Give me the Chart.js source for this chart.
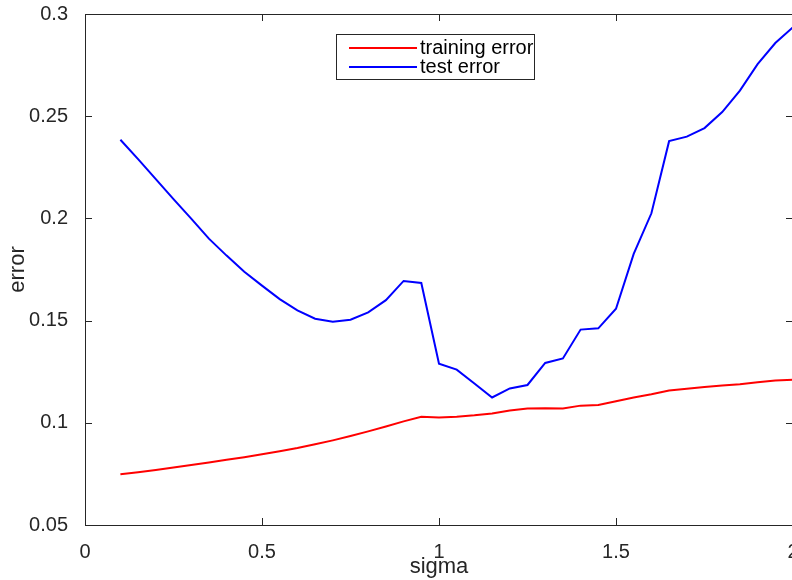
<!DOCTYPE html>
<html lang="en">
<head>
    <meta charset="UTF-8">
    <title>Training vs test error</title>
    <script src="https://cdn.jsdelivr.net/npm/chart.js"></script>
    <style>
        html, body {
            margin: 0;
            padding: 0;
            background: #fff;
            overflow: hidden;
        }
        .chart-container {
            position: relative;
            width: 800px;
            height: 580px;
        }
    </style>
</head>
<body>
<div class="chart-container">
    <canvas id="errorChart"></canvas>
</div>

<script>
    // sigma values (x) and the two error curves
    const sigma = [0.1, 0.15, 0.2, 0.25, 0.3, 0.35, 0.4, 0.45, 0.5, 0.55, 0.6, 0.65, 0.7, 0.75,
        0.8, 0.85, 0.9, 0.95, 1.0, 1.05, 1.1, 1.15, 1.2, 1.25, 1.3, 1.35, 1.4, 1.45, 1.5,
        1.55, 1.6, 1.65, 1.7, 1.75, 1.8, 1.85, 1.9, 1.95, 2.0];

    const trainingError = [0.0748, 0.0758, 0.0769, 0.0781, 0.0793, 0.0806, 0.0819, 0.0832,
        0.0846, 0.0861, 0.0877, 0.0895, 0.0914, 0.0935, 0.0958, 0.0982, 0.1007, 0.1029,
        0.1026, 0.1030, 0.1037, 0.1046, 0.1060, 0.1070, 0.1071, 0.1070, 0.1084, 0.1087,
        0.1105, 0.1124, 0.1140, 0.1158, 0.1167, 0.1175, 0.1182, 0.1189, 0.1198, 0.1207, 0.1211];

    const testError = [0.2385, 0.2290, 0.2192, 0.2094, 0.1999, 0.1901, 0.1818, 0.1739,
        0.1671, 0.1605, 0.1550, 0.1509, 0.1495, 0.1504, 0.1540, 0.1600, 0.1694, 0.1684,
        0.1289, 0.1260, 0.1192, 0.1124, 0.1168, 0.1185, 0.1293, 0.1315, 0.1456, 0.1462,
        0.1558, 0.1826, 0.2025, 0.2378, 0.2400, 0.2442, 0.2520, 0.2625, 0.2755, 0.2858, 0.2935];

    const seriesLabels = ['training error', 'test error'];
    const seriesColors = ['#ff0000', '#0000ff'];

    const axisColor = '#262626';
    const fontFamily = '"Liberation Sans", Arial, Helvetica, sans-serif';

    function toPoints(ys) {
        return sigma.map((x, i) => ({ x: x, y: ys[i] }));
    }

    // matlab style tick text: 0.3 not 0.30, 1 not 1.0
    function shortNum(v) {
        return String(parseFloat(Number(v).toFixed(3)));
    }

    // box around the plot with inward tick marks on all four sides
    const boxTicks = {
        id: 'boxTicks',
        afterDraw(chart) {
            const { ctx, chartArea: a, scales } = chart;
            const len = 7;
            ctx.save();
            ctx.strokeStyle = axisColor;
            ctx.lineWidth = 1;
            ctx.strokeRect(a.left + 0.5, a.top + 0.5, a.right - a.left, a.bottom - a.top);
            ctx.beginPath();
            scales.x.ticks.forEach(t => {
                const px = Math.round(scales.x.getPixelForValue(t.value)) + 0.5;
                ctx.moveTo(px, a.bottom);
                ctx.lineTo(px, a.bottom - len);
                ctx.moveTo(px, a.top);
                ctx.lineTo(px, a.top + len);
            });
            scales.y.ticks.forEach(t => {
                const py = Math.round(scales.y.getPixelForValue(t.value)) + 0.5;
                ctx.moveTo(a.left, py);
                ctx.lineTo(a.left + len, py);
                ctx.moveTo(a.right, py);
                ctx.lineTo(a.right - len, py);
            });
            ctx.stroke();
            ctx.restore();
        }
    };

    // MATLAB-style legend box near the top centre
    const boxLegend = {
        id: 'boxLegend',
        afterDraw(chart) {
            const ctx = chart.ctx;
            const x0 = 336, y0 = 34, w = 198, h = 45;
            ctx.save();
            ctx.fillStyle = '#fff';
            ctx.fillRect(x0, y0, w, h);
            ctx.strokeStyle = axisColor;
            ctx.lineWidth = 1;
            ctx.strokeRect(x0 + 0.5, y0 + 0.5, w, h);
            ctx.font = '20px ' + fontFamily;
            ctx.textBaseline = 'middle';
            chart.data.datasets.forEach((ds, i) => {
                const y = y0 + 14 + i * 19;
                ctx.strokeStyle = ds.borderColor;
                ctx.lineWidth = 2;
                ctx.beginPath();
                ctx.moveTo(x0 + 13, y);
                ctx.lineTo(x0 + 81, y);
                ctx.stroke();
                ctx.fillStyle = '#000';
                ctx.fillText(ds.label, x0 + 84, y);
            });
            ctx.restore();
        }
    };

    const ctx = document.getElementById('errorChart').getContext('2d');
    new Chart(ctx, {
        type: 'line',
        data: {
            datasets: [
                {
                    label: seriesLabels[0],
                    data: toPoints(trainingError),
                    borderColor: seriesColors[0],
                    backgroundColor: seriesColors[0],
                    borderWidth: 2,
                    pointRadius: 0,
                    tension: 0,
                    fill: false
                },
                {
                    label: seriesLabels[1],
                    data: toPoints(testError),
                    borderColor: seriesColors[1],
                    backgroundColor: seriesColors[1],
                    borderWidth: 2,
                    pointRadius: 0,
                    tension: 0,
                    fill: false
                }
            ]
        },
        options: {
            responsive: true,
            maintainAspectRatio: false,
            animation: false,
            layout: {
                padding: { top: 14, right: 7, left: 0, bottom: 0 }
            },
            plugins: {
                legend: { display: false },
                tooltip: { enabled: false }
            },
            scales: {
                x: {
                    type: 'linear',
                    min: 0,
                    max: 2,
                    grid: { display: false },
                    border: { display: false },
                    ticks: {
                        stepSize: 0.5,
                        padding: 7,
                        color: axisColor,
                        font: { family: fontFamily, size: 20 },
                        maxRotation: 0,
                        callback: shortNum
                    },
                    title: {
                        display: true,
                        text: 'sigma',
                        color: axisColor,
                        font: { family: fontFamily, size: 22 },
                        padding: { top: 0, bottom: 0 }
                    },
                    afterFit(scale) {
                        scale.height = 55;
                        scale.paddingLeft = 0;
                        scale.paddingRight = 0;
                    }
                },
                y: {
                    min: 0.05,
                    max: 0.3,
                    grid: { display: false },
                    border: { display: false },
                    ticks: {
                        stepSize: 0.05,
                        padding: 9,
                        color: axisColor,
                        font: { family: fontFamily, size: 20 },
                        callback: shortNum
                    },
                    title: {
                        display: true,
                        text: 'error',
                        color: axisColor,
                        font: { family: fontFamily, size: 22 },
                        padding: { top: 5, bottom: 0 }
                    },
                    afterFit(scale) {
                        scale.width = 85;
                        scale.paddingTop = 0;
                        scale.paddingBottom = 0;
                    }
                }
            }
        },
        plugins: [boxTicks, boxLegend]
    });
</script>
</body>
</html>
